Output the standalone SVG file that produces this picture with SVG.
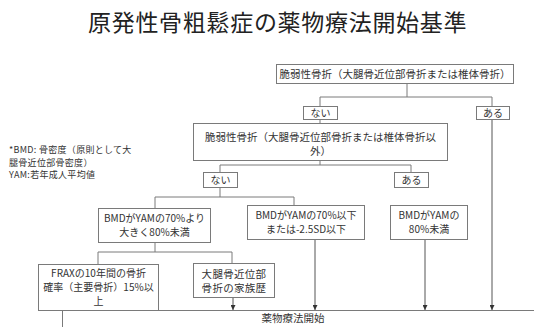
<svg xmlns="http://www.w3.org/2000/svg" width="534" height="327" viewBox="0 0 534 327">
<style>
.box{fill:#fff;stroke:#7a7a7a;stroke-width:1}
.ln{fill:none;stroke:#7a7a7a;stroke-width:1}
.arr{fill:none;stroke:#555;stroke-width:1;marker-end:url(#ah)}
text{font-family:"Noto Sans CJK JP","Noto Sans",sans-serif;fill:#333;font-size:10.5px}
.c{text-anchor:middle}
.s{font-size:10px}
.n{font-size:9px;letter-spacing:0.3px}
.title{font-size:23px;letter-spacing:0.7px;fill:#222}
</style>
<defs>
<marker id="ah" viewBox="0 0 6 6" refX="6" refY="3" markerWidth="5" markerHeight="5" markerUnits="userSpaceOnUse" orient="auto">
<path d="M0,0 L6,3 L0,6 z" fill="#333"/>
</marker>
</defs>
<rect width="534" height="327" fill="#fff"/>
<text id="title" class="title" x="88" y="31">原発性骨粗鬆症の薬物療法開始基準</text>
<g id="note">
<text class="n" x="9" y="153">*BMD: 骨密度（原則として大</text>
<text class="n" x="9" y="165.5">腿骨近位部骨密度）</text>
<text class="n" x="9" y="178">YAM:若年成人平均値</text>
</g>
<g id="connectors">
<path class="ln" d="M407,83 V97 M320,97 H492 M320,97 V106 M492,97 V106"/>
<path class="ln" d="M320,119 V123"/>
<path class="ln" d="M320,160 V165 M220,165 H411 M220,165 V172 M411,165 V172"/>
<path class="ln" d="M220,187 V197 M155,197 H294 M155,197 V208 M294,197 V205"/>
<path class="ln" d="M155,242 V252 M98,252 H232 M98,252 V264 M232,252 V263"/>
<path class="arr" d="M492,119 V310"/>
<path class="arr" d="M425,239 V310"/>
<path class="arr" d="M315,239 V310"/>
<path class="arr" d="M233,297 V310"/>
<path class="arr" d="M98,302 V310"/>
</g>
<g id="n_top">
<rect class="box" x="276.5" y="64.5" width="237" height="19"/>
<text class="c" x="395" y="78">脆弱性骨折（大腿骨近位部骨折または椎体骨折）</text>
</g>
<g id="n_nai1">
<rect class="box" x="303.5" y="106.5" width="34" height="13"/>
<text class="c s" x="320.5" y="117">ない</text>
</g>
<g id="n_aru1">
<rect class="box" x="476.5" y="106.5" width="33" height="13"/>
<text class="c s" x="493" y="117">ある</text>
</g>
<g id="n_second">
<rect class="box" x="193.5" y="123.5" width="254" height="37"/>
<text class="c" x="320.5" y="141">脆弱性骨折（大腿骨近位部骨折または椎体骨折以</text>
<text class="c" x="320.5" y="155">外）</text>
</g>
<g id="n_nai2">
<rect class="box" x="203.5" y="172.5" width="34" height="15"/>
<text class="c s" x="220.5" y="184">ない</text>
</g>
<g id="n_aru2">
<rect class="box" x="394.5" y="172.5" width="34" height="15"/>
<text class="c s" x="411.5" y="184">ある</text>
</g>
<g id="n_bmdA">
<rect class="box" x="98.5" y="208.5" width="112" height="34"/>
<text class="c s" x="154.5" y="222">BMDがYAMの70%より</text>
<text class="c s" x="154.5" y="236">大きく80%未満</text>
</g>
<g id="n_bmdB">
<rect class="box" x="247.5" y="205.5" width="117" height="34"/>
<text class="c s" x="306" y="219">BMDがYAMの70%以下</text>
<text class="c s" x="306" y="233">または-2.5SD以下</text>
</g>
<g id="n_bmdC">
<rect class="box" x="390.5" y="205.5" width="77" height="34"/>
<text class="c s" x="429" y="219">BMDがYAMの</text>
<text class="c s" x="429" y="233">80%未満</text>
</g>
<g id="n_frax">
<rect class="box" x="38.5" y="264.5" width="120" height="46"/>
<text class="c s" x="98.5" y="277">FRAXの10年間の骨折</text>
<text class="c s" x="98.5" y="291">確率（主要骨折）15%以</text>
<text class="c s" x="98.5" y="305">上</text>
</g>
<g id="n_family">
<rect class="box" x="193.5" y="263.5" width="81" height="34"/>
<text class="c" x="234" y="278" style="letter-spacing:0.3px">大腿骨近位部</text>
<text class="c" x="234" y="292" style="letter-spacing:0.3px">骨折の家族歴</text>
</g>
<g id="n_start">
<rect class="box" x="62.5" y="310.5" width="480" height="30"/>
<text class="c" x="293" y="322">薬物療法開始</text>
</g>
</svg>
